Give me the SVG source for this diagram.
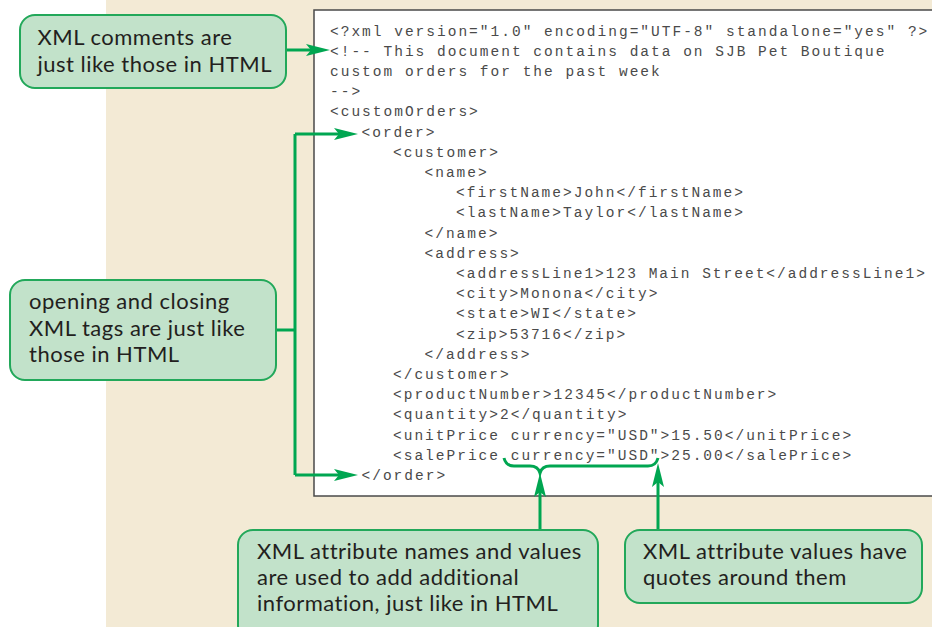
<svg xmlns="http://www.w3.org/2000/svg" width="932" height="627" viewBox="0 0 932 627">
<style>
.callout{fill:#c2e2ca;stroke:#22a85a;stroke-width:2}
.ct{font-family:Lato,"Open Sans",sans-serif;font-size:22px;letter-spacing:0.5px;fill:#231f20}
.code{font-family:"Liberation Mono","Courier New",monospace;font-size:14.5px;letter-spacing:2px;fill:#4a4a4a}
.conn{fill:none;stroke:#00a651;stroke-width:3}
</style>
<defs>
<marker id="ah" viewBox="0 0 24 12" markerWidth="24" markerHeight="12" refX="12" refY="6" orient="auto" markerUnits="userSpaceOnUse">
<path d="M0,0 L24,6 L0,12 L5,6 z" fill="#00a651"/>
</marker>
</defs>
<rect x="0" y="0" width="932" height="627" fill="#ffffff"/>
<rect x="106" y="0" width="826" height="627" fill="#f3ead5"/>
<g id="code">
<rect x="314" y="10" width="700" height="486" fill="#ffffff" stroke="#4a4a4a" stroke-width="1.5"/>
<text class="code">
<tspan x="330" y="35.5">&lt;?xml version="1.0" encoding="UTF-8" standalone="yes" ?&gt;</tspan>
<tspan x="330" y="55.7">&lt;!-- This document contains data on SJB Pet Boutique</tspan>
<tspan x="330" y="75.9">custom orders for the past week</tspan>
<tspan x="330" y="96.1">--&gt;</tspan>
<tspan x="330" y="116.3">&lt;customOrders&gt;</tspan>
<tspan x="361.5" y="136.5">&lt;order&gt;</tspan>
<tspan x="393" y="156.7">&lt;customer&gt;</tspan>
<tspan x="424.5" y="176.9">&lt;name&gt;</tspan>
<tspan x="456" y="197.1">&lt;firstName&gt;John&lt;/firstName&gt;</tspan>
<tspan x="456" y="217.3">&lt;lastName&gt;Taylor&lt;/lastName&gt;</tspan>
<tspan x="424.5" y="237.5">&lt;/name&gt;</tspan>
<tspan x="424.5" y="257.7">&lt;address&gt;</tspan>
<tspan x="456" y="277.9">&lt;addressLine1&gt;123 Main Street&lt;/addressLine1&gt;</tspan>
<tspan x="456" y="298.1">&lt;city&gt;Monona&lt;/city&gt;</tspan>
<tspan x="456" y="318.3">&lt;state&gt;WI&lt;/state&gt;</tspan>
<tspan x="456" y="338.5">&lt;zip&gt;53716&lt;/zip&gt;</tspan>
<tspan x="424.5" y="358.7">&lt;/address&gt;</tspan>
<tspan x="393" y="378.9">&lt;/customer&gt;</tspan>
<tspan x="393" y="399.1">&lt;productNumber&gt;12345&lt;/productNumber&gt;</tspan>
<tspan x="393" y="419.3">&lt;quantity&gt;2&lt;/quantity&gt;</tspan>
<tspan x="393" y="439.5">&lt;unitPrice currency="USD"&gt;15.50&lt;/unitPrice&gt;</tspan>
<tspan x="393" y="459.7">&lt;salePrice currency="USD"&gt;25.00&lt;/salePrice&gt;</tspan>
<tspan x="361.5" y="479.9">&lt;/order&gt;</tspan>
</text>
</g>
<g id="connectors">
<path class="conn" d="M286,50 L318,50" marker-end="url(#ah)"/>
<path class="conn" d="M277,330 L295,330"/>
<path class="conn" d="M295,134 L295,475"/>
<path class="conn" d="M295,134 L346,134" marker-end="url(#ah)"/>
<path class="conn" d="M295,475 L346,475" marker-end="url(#ah)"/>
<path class="conn" d="M504,458 Q506,466 514,466 L530,466 Q538,466 540,473 Q542,466 550,466 L648,466 Q656,466 658,458"/>
<path class="conn" d="M540,530 L540,485" marker-end="url(#ah)"/>
<path class="conn" d="M658,530 L658,475" marker-end="url(#ah)"/>
</g>
<g id="callout-comments">
<rect class="callout" x="20" y="15" width="266" height="73" rx="15"/>
<text class="ct"><tspan x="37.5" y="45">XML comments are</tspan><tspan x="37.5" y="72">just like those in HTML</tspan></text>
</g>
<g id="callout-tags">
<rect class="callout" x="10" y="280" width="266" height="100" rx="15"/>
<text class="ct"><tspan x="29" y="309">opening and closing</tspan><tspan x="29" y="336">XML tags are just like</tspan><tspan x="29" y="362">those in HTML</tspan></text>
</g>
<g id="callout-attributes">
<rect class="callout" x="238" y="530" width="360" height="110" rx="15"/>
<text class="ct"><tspan x="257" y="559">XML attribute names and values</tspan><tspan x="257" y="585">are used to add additional</tspan><tspan x="257" y="611">information, just like in HTML</tspan></text>
</g>
<g id="callout-quotes">
<rect class="callout" x="625" y="530" width="297" height="73" rx="15"/>
<text class="ct"><tspan x="643" y="559">XML attribute values have</tspan><tspan x="643" y="585">quotes around them</tspan></text>
</g>
</svg>
